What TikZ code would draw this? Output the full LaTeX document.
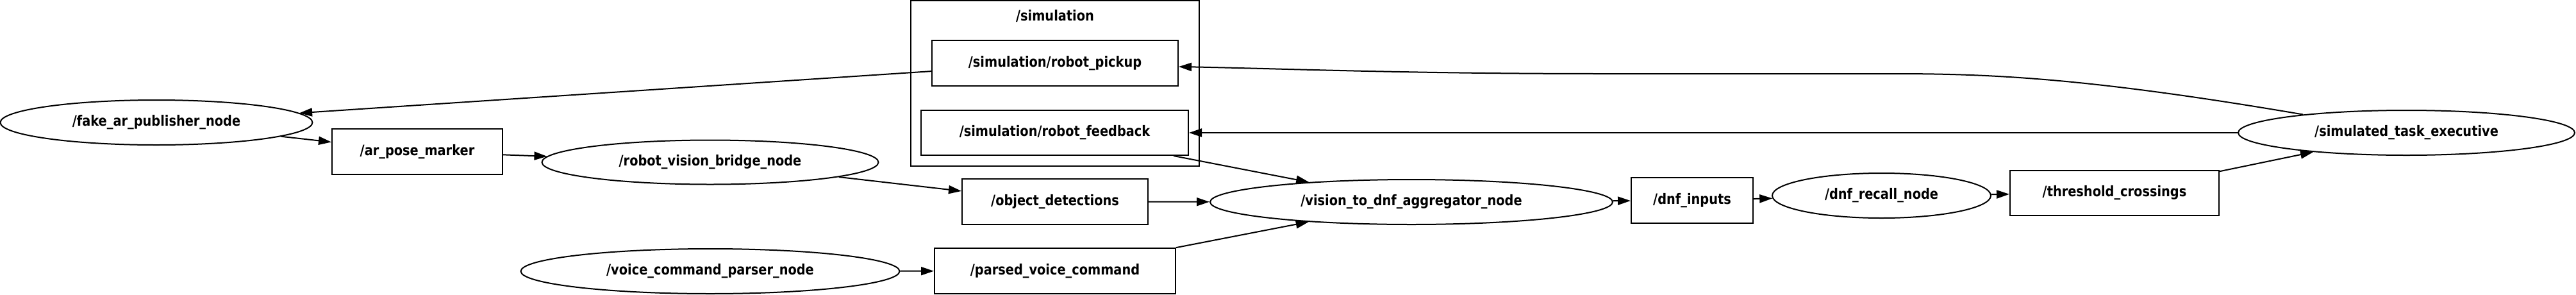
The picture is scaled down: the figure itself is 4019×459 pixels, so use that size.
\documentclass[tikz,border=0pt]{standalone}
\usepackage{fontspec}
\setmainfont{DejaVu Sans}[FakeStretch=0.86]
\usetikzlibrary{shapes.geometric,arrows.meta,calc}
\begin{document}
\begin{tikzpicture}[x=1pt,y=-1pt,
  every node/.style={font=\fontsize{22.5}{26}\selectfont\bfseries},
  topic/.style={draw, line width=2pt, rectangle, inner sep=0pt},
  rosnode/.style={draw, line width=2pt, ellipse, inner sep=0pt},
  conn/.style={line width=2pt, -{Triangle[length=20pt,width=13pt]}},
  cluster/.style={draw, line width=1.8pt, rectangle, inner sep=0pt}]
\useasboundingbox (0,0) rectangle (4019,459);
\node[cluster, minimum width=450pt, minimum height=258pt] (clu) at (1646,130) {};
\node (clulabel) at (1646,25) {/simulation};

\node[rosnode, minimum width=487pt, minimum height=70pt] (fake) at (244,191) {/fake\_ar\_publisher\_node};
\node[topic, minimum width=266pt, minimum height=71pt] (arpose) at (651,236.5) {/ar\_pose\_marker};
\node[rosnode, minimum width=525pt, minimum height=69pt] (rvb) at (1108,253) {/robot\_vision\_bridge\_node};
\node[rosnode, minimum width=591pt, minimum height=70pt] (voice) at (1108,423) {/voice\_command\_parser\_node};
\node[topic, minimum width=384pt, minimum height=71pt] (pickup) at (1646,98.5) {/simulation/robot\_pickup};
\node[topic, minimum width=417pt, minimum height=70pt] (feedback) at (1645.5,207) {/simulation/robot\_feedback};
\node[topic, minimum width=290pt, minimum height=71pt] (objdet) at (1646,314.5) {/object\_detections};
\node[topic, minimum width=376pt, minimum height=71pt] (parsed) at (1646,422.5) {/parsed\_voice\_command};
\node[rosnode, minimum width=628pt, minimum height=70pt] (agg) at (2202,315) {/vision\_to\_dnf\_aggregator\_node};
\node[topic, minimum width=190pt, minimum height=71pt] (dnfin) at (2640,312.5) {/dnf\_inputs};
\node[rosnode, minimum width=341pt, minimum height=70pt] (recall) at (2935.5,305) {/dnf\_recall\_node};
\node[topic, minimum width=326pt, minimum height=70pt] (thresh) at (3299,301) {/threshold\_crossings};
\node[rosnode, minimum width=525pt, minimum height=70pt] (task) at (3754.5,207) {/simulated\_task\_executive};

\draw[conn] (pickup) -- (fake);
\draw[conn] (fake) -- (arpose);
\draw[conn] (arpose) -- (rvb);
\draw[conn] (rvb) -- (objdet);
\draw[conn] (objdet) -- (agg);
\draw[conn] (feedback) -- (agg);
\draw[conn] (parsed) -- (agg);
\draw[conn] (voice) -- (parsed);
\draw[conn] (agg) -- (dnfin);
\draw[conn] (dnfin) -- (recall);
\draw[conn] (recall) -- (thresh);
\draw[conn] (thresh) -- (task);
\draw[conn] (task) -- (feedback);
\coordinate (pk) at ($(pickup.east)+(0,5.5)$);
\draw[conn] (task.170) .. controls (3250,120) and (3100,115) .. (2950,115) -- (2500,115) .. controls (2200,115) and (2000,107) .. (pk);
\end{tikzpicture}
\end{document}
